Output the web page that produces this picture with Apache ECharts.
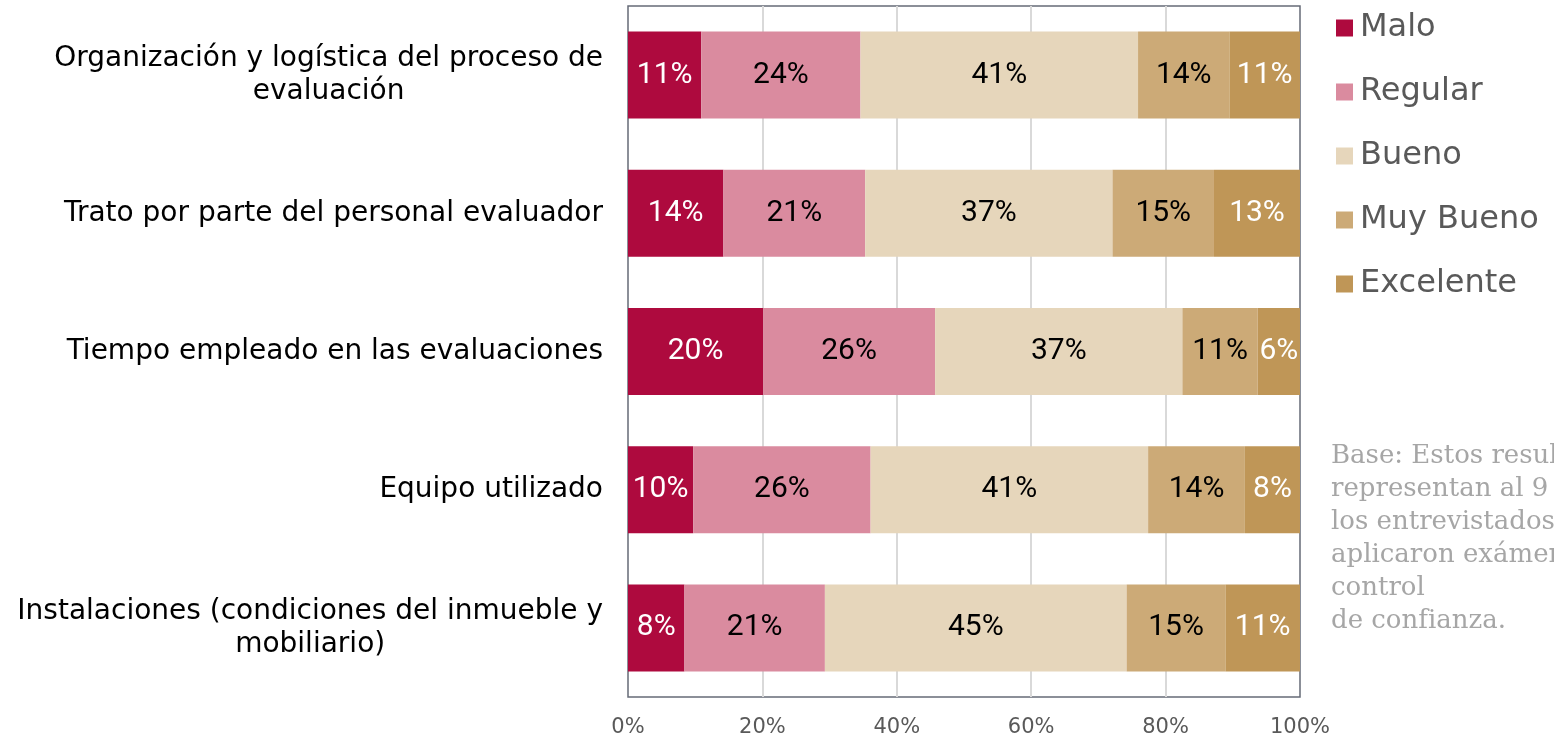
<!DOCTYPE html>
<html lang="es">
<head>
    <meta charset="UTF-8">
    <title>Evaluación</title>
    <script src="https://cdn.jsdelivr.net/npm/echarts@6/dist/echarts.min.js"></script>
    <style>
        html, body { margin: 0; padding: 0; background: #fff; }
        #chart { width: 1554px; height: 741px; }
    </style>
</head>
<body>
<div id="chart"></div>
<script type="text/javascript">
    // categorias (de arriba hacia abajo)
    var categorias = [
        'Organización y logística del proceso de\nevaluación',
        'Trato por parte del personal evaluador',
        'Tiempo empleado en las evaluaciones',
        'Equipo utilizado',
        'Instalaciones (condiciones del inmueble y\nmobiliario)'
    ];
    var niveles = ['Malo', 'Regular', 'Bueno', 'Muy Bueno', 'Excelente'];

    // porcentajes
    var malo      = [10.9, 14.2, 20.1,  9.7,  8.4];
    var regular   = [23.7, 21.1, 25.6, 26.4, 20.9];
    var bueno     = [41.3, 36.8, 36.8, 41.3, 44.9];
    var muyBueno  = [13.6, 15.1, 11.2, 14.4, 14.7];
    var excelente = [10.5, 12.8,  6.3,  8.2, 11.1];

    var colores = ['#ae0a3e', '#da8b9f', '#e6d6bb', '#ccaa77', '#bf9657'];
    var colorEtiqueta = ['#fff', '#000', '#000', '#000', '#fff'];
    var valores = [malo, regular, bueno, muyBueno, excelente];

    var nota = 'Base: Estos resultados\nrepresentan al 9\nlos entrevistados que\naplicaron exámenes de\ncontrol\nde confianza.';

    var myChart = echarts.init(document.getElementById('chart'));

    var series = [];
    for (var i = 0; i < niveles.length; i++) {
        series.push({
            name: niveles[i],
            type: 'bar',
            stack: 'total',
            barWidth: 87,
            data: valores[i],
            itemStyle: { color: colores[i] },
            label: {
                show: true,
                position: 'inside',
                color: colorEtiqueta[i],
                fontFamily: 'Roboto',
                fontSize: 30,
                formatter: function (p) { return Math.round(p.value) + '%'; }
            }
        });
    }

    var option = {
        animation: false,
        color: colores,
        grid: {
            left: 628,
            right: 254,
            top: 6,
            bottom: 44,
            show: true,
            borderColor: '#666b77',
            borderWidth: 1.5,
            backgroundColor: 'transparent'
        },
        legend: {
            orient: 'vertical',
            left: 1336,
            top: 12,
            padding: 0,
            itemWidth: 17,
            itemHeight: 17,
            itemGap: 32,
            icon: 'rect',
            data: niveles,
            textStyle: {
                color: '#595959',
                fontFamily: 'DejaVu Sans',
                fontSize: 32,
                lineHeight: 30,
                padding: [0, 0, 0, 2]
            }
        },
        xAxis: {
            type: 'value',
            min: 0,
            max: 100,
            interval: 20,
            axisLine: { show: false },
            axisTick: { show: false },
            splitLine: {
                show: true,
                showMinLine: false,
                showMaxLine: false,
                lineStyle: { color: '#d9d9d9', width: 2 }
            },
            axisLabel: {
                formatter: '{value}%',
                color: '#595959',
                fontFamily: 'DejaVu Sans',
                fontSize: 21,
                margin: 20
            }
        },
        yAxis: {
            type: 'category',
            inverse: true,
            data: categorias,
            axisLine: { show: false },
            axisTick: { show: false },
            axisLabel: {
                margin: 25,
                formatter: function (v) {
                    return v.split('\n').map(function (s) { return '{c|' + s + '}'; }).join('\n');
                },
                rich: {
                    c: {
                        align: 'center',
                        color: '#000',
                        fontFamily: 'DejaVu Sans',
                        fontSize: 28,
                        lineHeight: 33
                    }
                }
            }
        },
        graphic: [{
            type: 'text',
            left: 1331,
            top: 440,
            style: {
                text: nota,
                fill: '#a6a6a6',
                font: '26px "DejaVu Serif"',
                lineHeight: 33
            }
        }],
        series: series
    };

    myChart.setOption(option);
</script>
</body>
</html>
